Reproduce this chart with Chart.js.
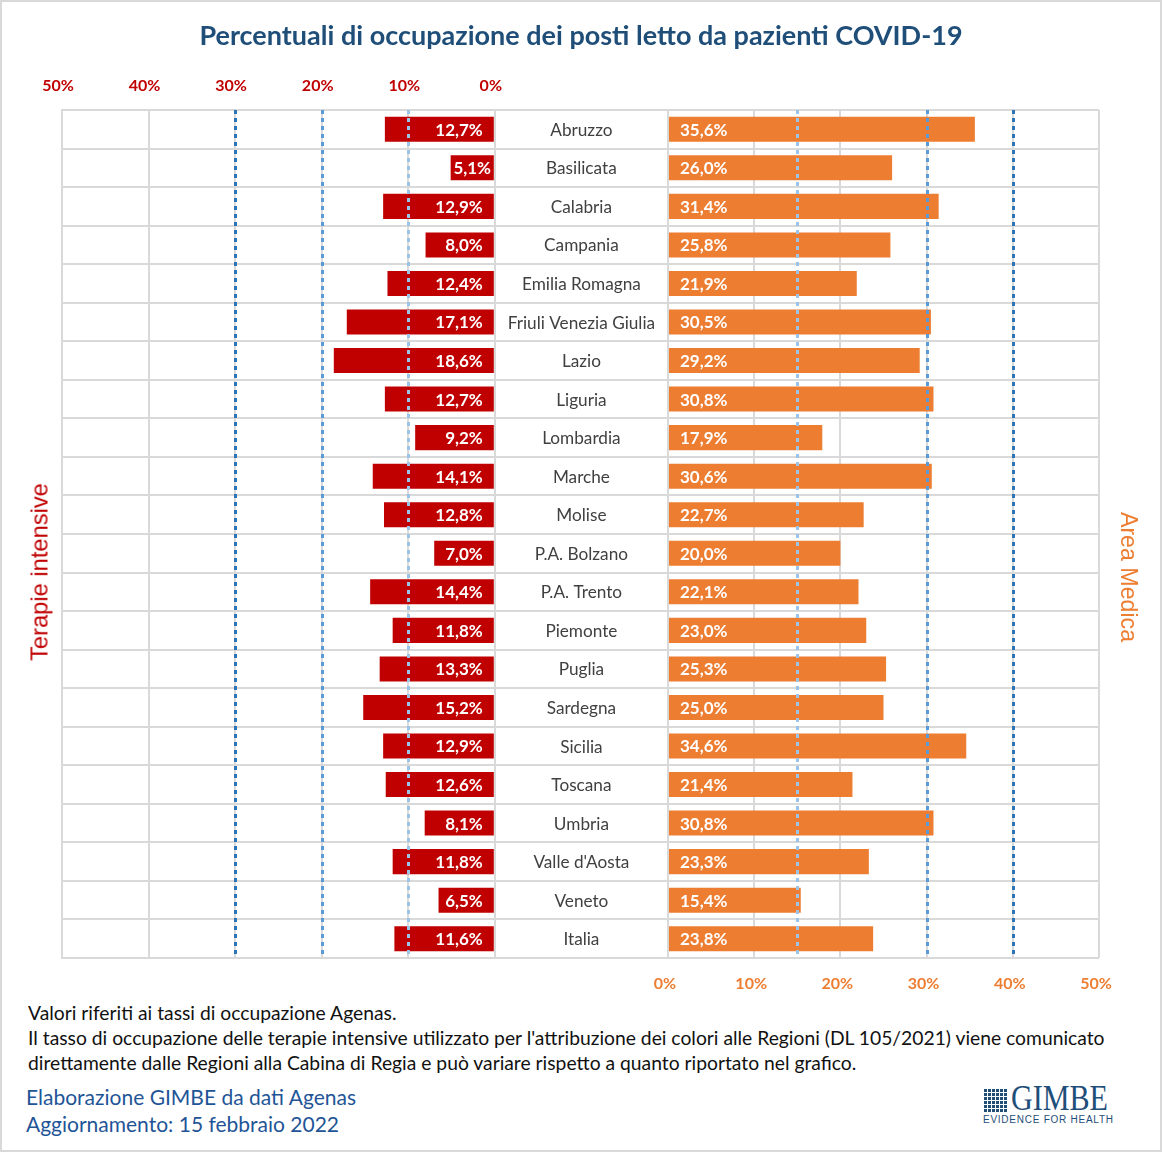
<!DOCTYPE html>
<html><head><meta charset="utf-8">
<script src="https://cdn.jsdelivr.net/npm/chart.js@4.4.0/dist/chart.umd.min.js"></script>
<style>
html,body{margin:0;padding:0;background:#fff;}
#page{position:relative;width:1162px;height:1152px;overflow:hidden;font-family:Lato,"Open Sans",sans-serif;}
#frame{position:absolute;left:0;top:0;width:1162px;height:1152px;box-sizing:border-box;border:2px solid #d9d9d9;pointer-events:none;}
#cv{position:absolute;left:0;top:0;width:1162px;height:1000px;}
.t{position:absolute;white-space:nowrap;}
#title{left:0;width:1162px;top:16px;line-height:38px;text-align:center;font-weight:bold;font-size:27px;color:#1F4E79;}
#ti{left:40px;top:572px;transform:translate(-50%,-50%) rotate(-90deg);font-family:"Liberation Sans",Arial,sans-serif;font-size:23.7px;color:#C00000;}
#am{left:1128px;top:577px;transform:translate(-50%,-50%) rotate(90deg);font-family:"Liberation Sans",Arial,sans-serif;font-size:23.2px;color:#ED7D31;}
#note{left:28px;top:1000px;line-height:25px;font-size:19.3px;color:#111;}
#src{left:26px;top:1083px;line-height:27px;font-size:21px;color:#1F5597;}
#icon{position:absolute;left:983px;top:1088px;width:24px;height:24px;background-color:#1F4E79;
 background-image:linear-gradient(#fff 1px,transparent 1px),linear-gradient(90deg,#fff 1px,transparent 1px);background-size:4px 4px;}
#gimbe{left:1011px;top:1080px;font-family:"Liberation Serif","DejaVu Serif",serif;font-size:35px;line-height:38px;color:#1F4E79;transform-origin:left center;transform:scaleX(0.86);}
#efh{left:983px;top:1114px;font-family:"Liberation Sans",sans-serif;font-size:10px;letter-spacing:0.75px;color:#1F4E79;}
</style></head>
<body>
<div id="page">
<div id="cv"><canvas id="chart" width="1162" height="1000"></canvas></div>
<div class="t" id="title">Percentuali di occupazione dei posti letto da pazienti COVID-19</div>
<div class="t" id="ti">Terapie intensive</div>
<div class="t" id="am">Area Medica</div>
<div class="t" id="note">Valori riferiti ai tassi di occupazione Agenas.<br>Il tasso di occupazione delle terapie intensive utilizzato per l'attribuzione dei colori alle Regioni (DL 105/2021) viene comunicato<br>direttamente dalle Regioni alla Cabina di Regia e può variare rispetto a quanto riportato nel grafico.</div>
<div class="t" id="src">Elaborazione GIMBE da dati Agenas<br>Aggiornamento: 15 febbraio 2022</div>
<div id="icon"></div>
<div class="t" id="gimbe">GIMBE</div>
<div class="t" id="efh">EVIDENCE FOR HEALTH</div>
<div id="frame"></div>
</div>
<script>
const categories = ["Abruzzo","Basilicata","Calabria","Campania","Emilia Romagna","Friuli Venezia Giulia","Lazio","Liguria","Lombardia","Marche","Molise","P.A. Bolzano","P.A. Trento","Piemonte","Puglia","Sardegna","Sicilia","Toscana","Umbria","Valle d'Aosta","Veneto","Italia"];
const terapieIntensive = [12.7,5.1,12.9,8.0,12.4,17.1,18.6,12.7,9.2,14.1,12.8,7.0,14.4,11.8,13.3,15.2,12.9,12.6,8.1,11.8,6.5,11.6];
const areaMedica = [35.6,26.0,31.4,25.8,21.9,30.5,29.2,30.8,17.9,30.6,22.7,20.0,22.1,23.0,25.3,25.0,34.6,21.4,30.8,23.3,15.4,23.8];
const tickValues = [0,10,20,30,40,50];
const sogliaTI = [10,20,30];
const sogliaAM = [15,30,40];
const sogliaColors = ["#9DC3E6","#5B9BD5","#2E75B6"];

const fmt = v => v.toFixed(1).replace('.', ',') + '%';
const FONT = 'Lato, "Open Sans", sans-serif';

const overlay = {
  id: 'overlay',
  afterDatasetsDraw(chart) {
    const ctx = chart.ctx, xL = chart.scales.xL, xR = chart.scales.xR, y = chart.scales.y;
    const {top, bottom} = chart.chartArea;
    ctx.save();
    ctx.lineWidth = 3;
    ctx.setLineDash([4, 4]);
    const drawDash = (scale, vals) => vals.forEach((v, i) => {
      const px = Math.round(scale.getPixelForValue(v)) + 0.5;
      ctx.strokeStyle = sogliaColors[i];
      ctx.beginPath(); ctx.moveTo(px, top); ctx.lineTo(px, bottom); ctx.stroke();
    });
    drawDash(xL, sogliaTI);
    drawDash(xR, sogliaAM);
    ctx.setLineDash([]);
    const cx = (xL.getPixelForValue(0) + xR.getPixelForValue(0)) / 2;
    ctx.textBaseline = 'middle';
    ctx.font = '17.2px ' + FONT;
    ctx.fillStyle = '#404040';
    ctx.textAlign = 'center';
    categories.forEach((c, i) => ctx.fillText(c, cx, y.getPixelForValue(i) + 1));
    ctx.font = 'bold 17px ' + FONT;
    ctx.fillStyle = '#ffffff';
    chart.getDatasetMeta(0).data.forEach((el, i) => {
      const txt = fmt(terapieIntensive[i]);
      const tw = ctx.measureText(txt).width;
      const bw = el.base - el.x;
      if (tw + 16 > bw) { ctx.textAlign = 'center'; ctx.fillText(txt, (el.base + el.x) / 2, el.y + 1); }
      else { ctx.textAlign = 'right'; ctx.fillText(txt, el.base - 11, el.y + 1); }
    });
    chart.getDatasetMeta(1).data.forEach((el, i) => {
      ctx.textAlign = 'left';
      ctx.fillText(fmt(areaMedica[i]), el.base + 11, el.y + 1);
    });
    ctx.restore();
  }
};

const gridCfg = {color: '#d9d9d9', lineWidth: 2, drawTicks: false};
new Chart(document.getElementById('chart'), {
  type: 'bar',
  data: {
    labels: categories,
    datasets: [
      {label: 'Terapie intensive', data: terapieIntensive, xAxisID: 'xL', backgroundColor: '#C00000', grouped: false, barPercentage: 0.65, categoryPercentage: 1},
      {label: 'Area Medica', data: areaMedica, xAxisID: 'xR', backgroundColor: '#ED7D31', grouped: false, barPercentage: 0.65, categoryPercentage: 1}
    ]
  },
  options: {
    indexAxis: 'y',
    responsive: false,
    animation: false,
    layout: {padding: {left: 62, right: 63, top: 70, bottom: 2}},
    plugins: {legend: {display: false}, tooltip: {enabled: false}, title: {display: false}},
    scales: {
      y: {type: 'category', grid: {...gridCfg, offset: true}, border: {color: '#d9d9d9', width: 2}, ticks: {display: false}, afterFit(s) { s.width = 0; }},
      xL: {type: 'linear', position: 'top', reverse: true, min: -69.8, max: 50,
        afterBuildTicks(s) { s.ticks = tickValues.map(v => ({value: v})); },
        ticks: {color: '#C00000', font: {weight: 'bold', size: 16, family: FONT}, padding: 15, labelOffset: -4, callback: v => v + '%'},
        grid: gridCfg, border: {display: false}, afterFit(s) { s.height = 40; }},
      xR: {type: 'linear', position: 'bottom', min: -70.3, max: 50,
        afterBuildTicks(s) { s.ticks = tickValues.map(v => ({value: v})); },
        ticks: {color: '#ED7D31', font: {weight: 'bold', size: 16, family: FONT}, padding: 16, labelOffset: -3, callback: v => v + '%'},
        grid: gridCfg, border: {display: false}, afterFit(s) { s.height = 40; }}
    }
  },
  plugins: [overlay]
});
</script>
</body></html>
